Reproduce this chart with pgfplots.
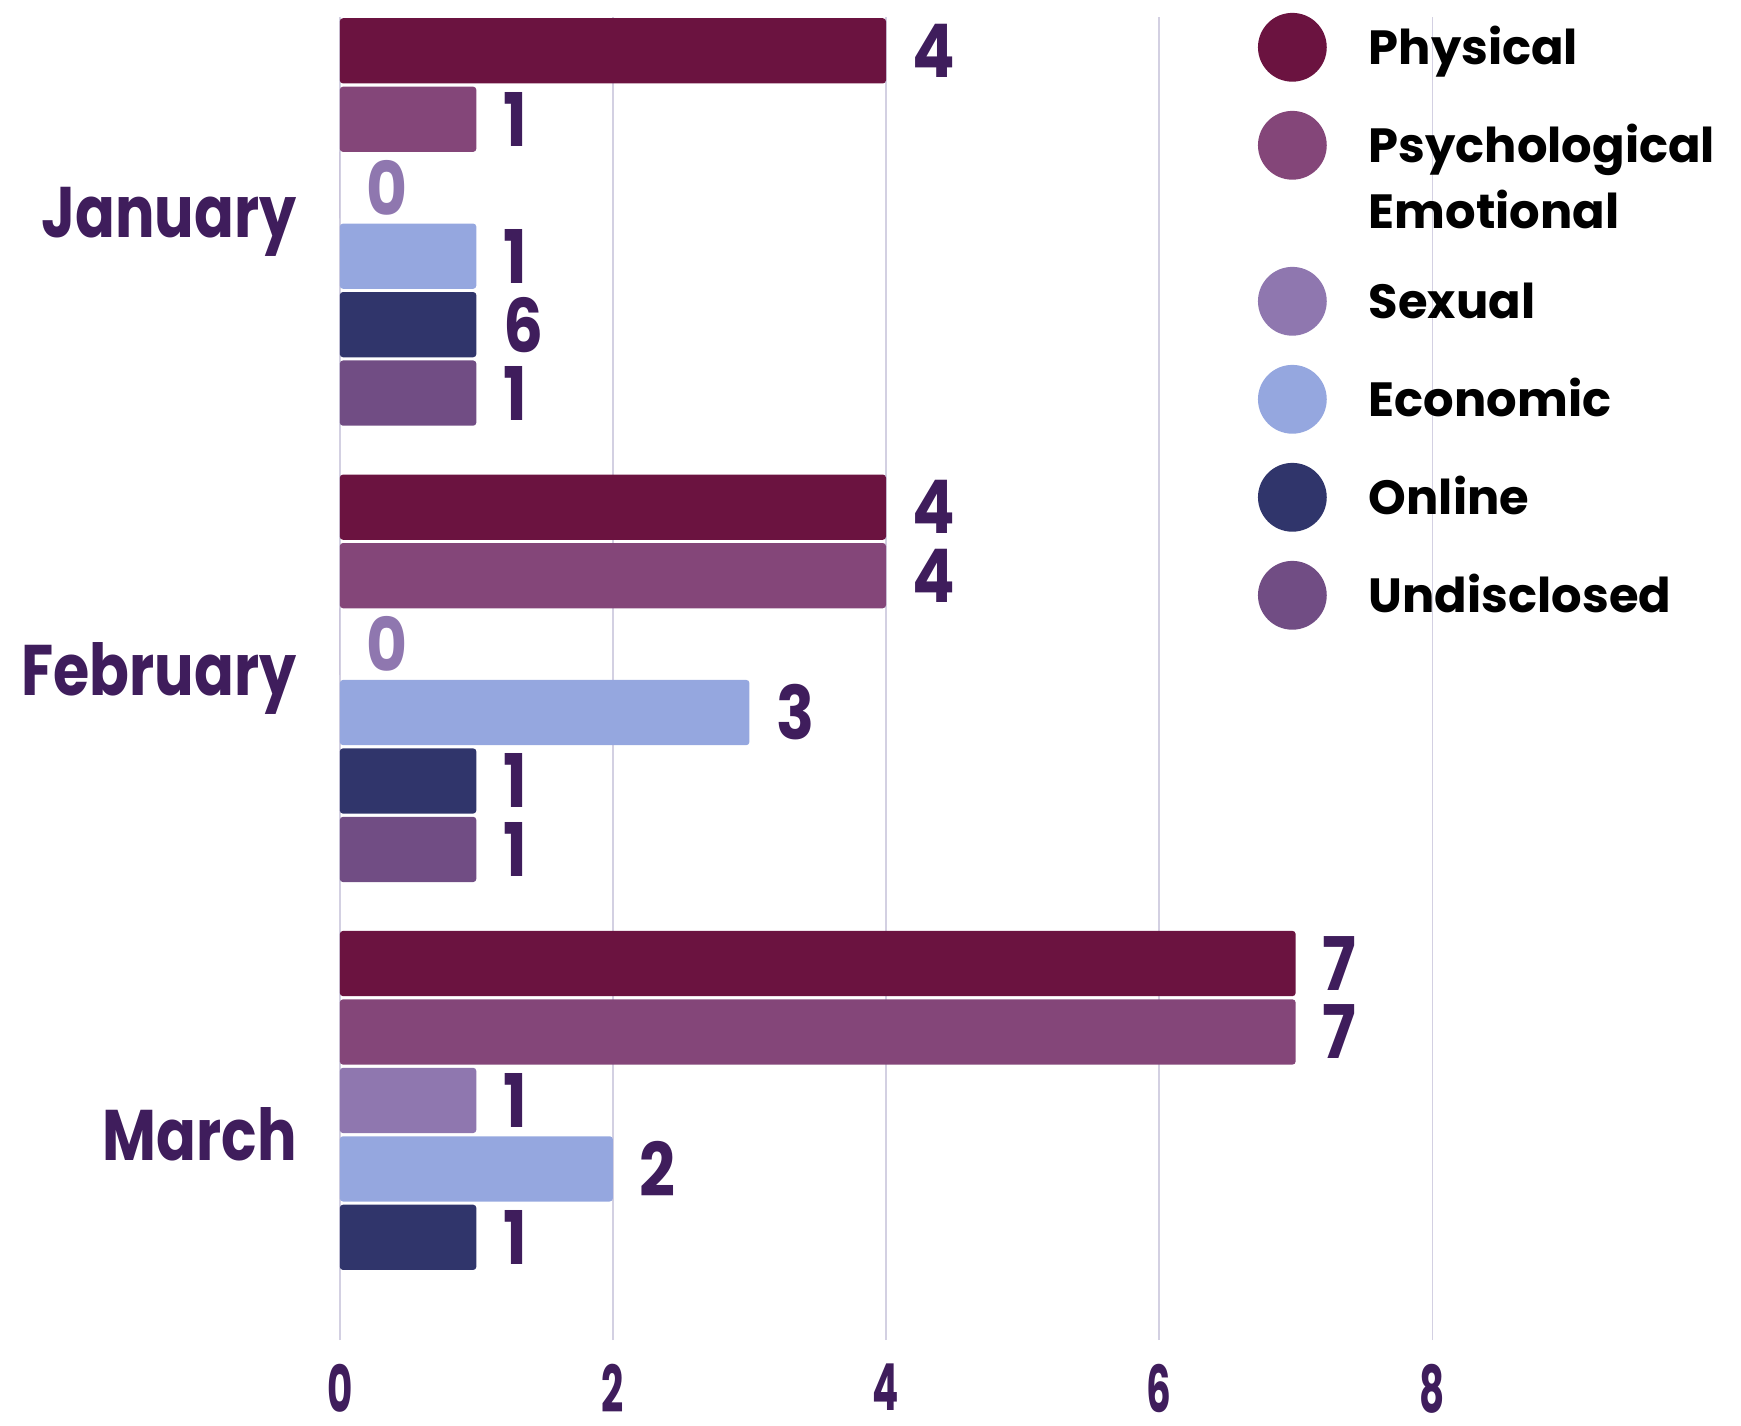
\documentclass[border=0pt]{standalone}
\usepackage{fontspec}
\setmainfont{Poppins}
\newfontfamily\numfont{Poppins}[FakeStretch=0.6]
\newfontfamily\monfont{Poppins}[FakeStretch=0.82]
\newfontfamily\labfont{Poppins}[FakeStretch=0.85]
\usepackage{pgfplots}
\pgfplotsset{compat=1.18}
\definecolor{cPhy}{HTML}{6B1340}
\definecolor{cPsy}{HTML}{844679}
\definecolor{cSex}{HTML}{8F77AF}
\definecolor{cEco}{HTML}{95A7DF}
\definecolor{cOnl}{HTML}{30356B}
\definecolor{cUnd}{HTML}{714D84}
\definecolor{cLab}{HTML}{3F1D5C}
\definecolor{cGrid}{HTML}{D3D0E2}
\newcommand\zc[1]{\textcolor{cSex}{#1}}
\newcommand\legtxt[1]{\raisebox{-4.2pt}[0pt][0pt]{#1}}
\begin{document}
\begin{tikzpicture}
\path (0,0) rectangle (435.25pt,356.25pt);
\begin{axis}[
 at={(84.95pt,21.25pt)}, anchor=south west,
 scale only axis, width=273.1pt, height=330.85pt,
 xbar, xmin=0, xmax=8, ymin=-0.45, ymax=2.45,
 enlargelimits=false,
 xtick={0,2,4,6,8}, xticklabels={0,2,4,6,8},
 ytick={0,1,2}, yticklabels={March,February,January},
 xmajorgrids, ymajorgrids=false, grid style={draw=cGrid, line width=0.35pt},
 axis line style={draw=none}, major tick length=0pt,
 xticklabel style={font=\numfont\bfseries\fontsize{16.2}{18}\selectfont, text=cLab, inner sep=0pt, anchor=north, yshift=-5.8pt},
 yticklabel style={font=\monfont\bfseries\fontsize{17.9}{20}\selectfont, text=cLab, inner sep=0pt, anchor=east, xshift=-10.6pt},
 bar width=0.143,
 point meta=explicit symbolic,
 nodes near coords,
 every node near coord/.append style={font=\labfont\bfseries\fontsize{18.5}{20}\selectfont, text=cLab, inner sep=0pt, anchor=west, xshift=6.5pt},
 legend image code/.code={\fill[#1, draw=none] (8.6pt,0pt) circle[radius=8.6pt];},
 legend style={at={(axis description cs:0.8405,1.0028)}, anchor=north west, draw=none, fill=none, inner sep=0pt, outer sep=0pt, row sep=7.3pt, column sep=10.5pt, font=\bfseries\fontsize{12}{16.7}\selectfont, text=black, nodes={inner sep=0pt}, cells={anchor=base west}},
 mybar/.style={fill=#1, draw=none, rounded corners=0.8pt},
]
\addplot[mybar=cPhy, bar shift=0.375] coordinates {(4,2)[4] (4,1)[4] (7,0)[7]};
\addlegendentry{\legtxt{Physical}}
\addplot[mybar=cPsy, bar shift=0.225] coordinates {(1,2)[1] (4,1)[4] (7,0)[7]};
\addlegendentry{\legtxt{Psychological}}
\addlegendimage{legend image code/.code={\path[draw=none, fill=none, opacity=0] (0pt,0.8pt) rectangle (17.2pt,-6.4pt);}}
\addlegendentry{\legtxt{Emotional}}
\addplot[mybar=cSex, bar shift=0.075] coordinates {(0,2)[\zc{0}] (0,1)[\zc{0}] (1,0)[1]};
\addlegendentry{\legtxt{Sexual}}
\addplot[mybar=cEco, bar shift=-0.075] coordinates {(1,2)[1] (3,1)[3] (2,0)[2]};
\addlegendentry{\legtxt{Economic}}
\addplot[mybar=cOnl, bar shift=-0.225] coordinates {(1,2)[6] (1,1)[1] (1,0)[1]};
\addlegendentry{\legtxt{Online}}
\addplot[mybar=cUnd, bar shift=-0.375] coordinates {(1,2)[1] (1,1)[1]};
\addlegendentry{\legtxt{Undisclosed}}
\end{axis}
\end{tikzpicture}
\end{document}
